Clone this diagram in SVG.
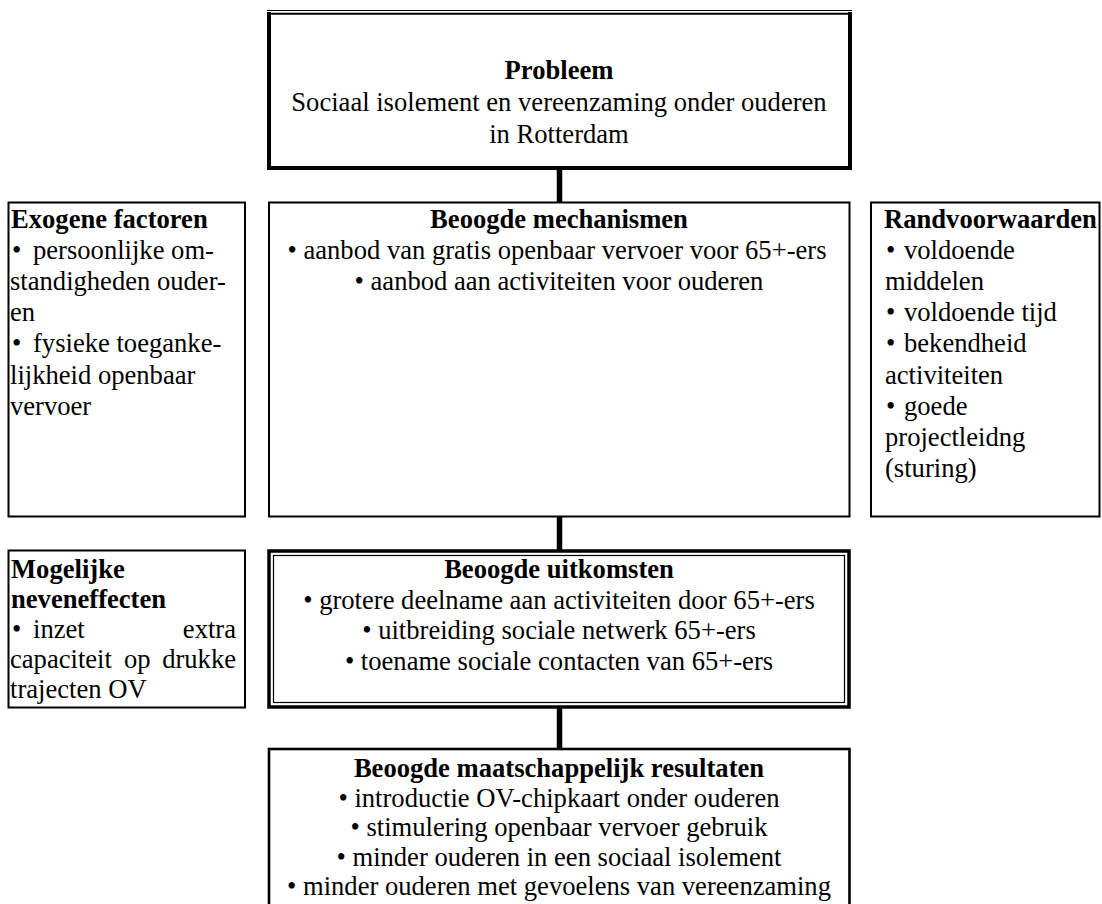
<svg xmlns="http://www.w3.org/2000/svg" width="1102" height="904" viewBox="0 0 1102 904">
<style>
text{font-family:"Liberation Serif","Times New Roman",serif;font-size:26.6px;fill:#000}
.b{font-weight:bold}
.c{text-anchor:middle}
.e{text-anchor:end}
.box{fill:#fff;stroke:#000;stroke-width:2}
.box3{fill:#fff;stroke:#000;stroke-width:2.6}
.thick{fill:none;stroke:#000;stroke-width:4}
.conn{stroke:#000;stroke-width:5.5;fill:none}
</style>
<rect width="1102" height="904" fill="#fff"/>
<g id="connectors">
<line class="conn" x1="559.5" y1="168" x2="559.5" y2="203"/>
<line class="conn" x1="559.5" y1="516" x2="559.5" y2="551"/>
<line class="conn" x1="559.5" y1="707" x2="559.5" y2="749"/>
</g>
<g id="probleem">
<path class="thick" d="M269,12 V168 H850 V12"/>
<line x1="267" y1="10.5" x2="852" y2="10.5" stroke="#000" stroke-width="1.2"/>
<line x1="267" y1="13.8" x2="852" y2="13.8" stroke="#000" stroke-width="2"/>
<text class="b c" x="559" y="79">Probleem</text>
<text class="c" x="559" y="111">Sociaal isolement en vereenzaming onder ouderen</text>
<text class="c" x="559" y="143">in Rotterdam</text>
</g>
<g id="exogene">
<rect class="box" x="8.5" y="202.5" width="236.5" height="314"/>
<text class="b" x="11" y="227.5">Exogene factoren</text>
<text x="12" y="258.7">•<tspan x="33">persoonlijke om-</tspan></text>
<text x="10" y="289.9">standigheden ouder-</text>
<text x="10" y="321.1">en</text>
<text x="12" y="352.3">•<tspan x="33">fysieke toeganke-</tspan></text>
<text x="10" y="383.5">lijkheid openbaar</text>
<text x="10" y="414.7">vervoer</text>
</g>
<g id="mechanismen">
<rect class="box" x="269" y="202.5" width="580.5" height="314"/>
<text class="b c" x="559" y="227.5">Beoogde mechanismen</text>
<text class="c" x="557" y="258.7">•  aanbod van gratis openbaar vervoer voor 65+-ers</text>
<text class="c" x="559" y="289.9">•  aanbod aan activiteiten voor ouderen</text>
</g>
<g id="randvoorwaarden">
<rect class="box" x="871" y="202.5" width="228.5" height="314"/>
<text class="b" x="884" y="227.5">Randvoorwaarden</text>
<text x="886" y="258.7">•<tspan x="904">voldoende</tspan></text>
<text x="885" y="289.9">middelen</text>
<text x="886" y="321.1">•<tspan x="904">voldoende tijd</tspan></text>
<text x="886" y="352.3">•<tspan x="904">bekendheid</tspan></text>
<text x="885" y="383.5">activiteiten</text>
<text x="886" y="414.7">•<tspan x="904">goede</tspan></text>
<text x="885" y="445.9">projectleidng</text>
<text x="885" y="477.1">(sturing)</text>
</g>
<g id="neveneffecten">
<rect class="box" x="8.5" y="550.5" width="236.5" height="157"/>
<text class="b" x="11" y="578">Mogelijke</text>
<text class="b" x="11" y="608">neveneffecten</text>
<text x="12" y="638">•<tspan x="33">inzet</tspan></text>
<text class="e" x="236" y="638">extra</text>
<text x="10" y="668">capaciteit</text>
<text x="124" y="668">op</text>
<text class="e" x="236" y="668">drukke</text>
<text x="10" y="698">trajecten OV</text>
</g>
<g id="uitkomsten">
<rect x="269" y="551" width="580" height="156" fill="#fff" stroke="#000" stroke-width="3.5"/>
<rect x="273.5" y="555.5" width="571" height="147" fill="none" stroke="#000" stroke-width="1.2"/>
<text class="b c" x="559" y="578">Beoogde uitkomsten</text>
<text class="c" x="559" y="608.5">•  grotere deelname aan activiteiten door 65+-ers</text>
<text class="c" x="559" y="639">•  uitbreiding sociale netwerk 65+-ers</text>
<text class="c" x="559" y="669.5">•  toename sociale contacten van 65+-ers</text>
</g>
<g id="resultaten">
<rect class="box3" x="269" y="749" width="580.5" height="180"/>
<text class="b c" x="559" y="777">Beoogde maatschappelijk resultaten</text>
<text class="c" x="559" y="806.5">•  introductie OV-chipkaart onder ouderen</text>
<text class="c" x="559" y="836">•  stimulering openbaar vervoer gebruik</text>
<text class="c" x="559" y="865.5">•  minder ouderen in een sociaal isolement</text>
<text class="c" x="559" y="895">•  minder ouderen met gevoelens van vereenzaming</text>
</g>
</svg>
